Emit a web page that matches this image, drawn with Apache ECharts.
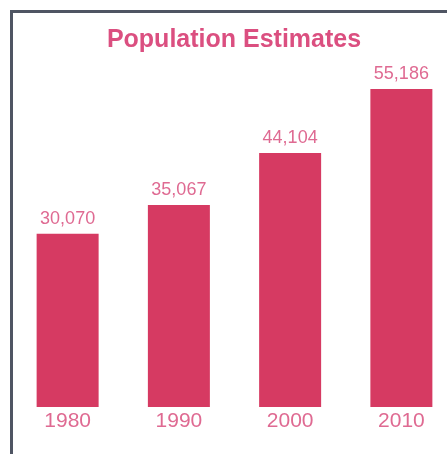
<!DOCTYPE html>
<html>
<head>
<meta charset="utf-8">
<script src="https://cdn.jsdelivr.net/npm/echarts@6/dist/echarts.min.js"></script>
<style>
html,body{margin:0;padding:0;background:#fff;}
#chart{width:447px;height:454px;}
</style>
</head>
<body>
<div id="chart"></div>
<script>
const titleText = "Population Estimates";
const categories = ["1980", "1990", "2000", "2010"];
const population = [30070, 35067, 44104, 55186];

const chart = echarts.init(document.getElementById('chart'));
chart.setOption({
  animation: false,
  backgroundColor: '#ffffff',
  title: {
    text: titleText,
    left: 229,
    textAlign: 'center',
    top: 23,
    textStyle: {
      fontFamily: 'Liberation Sans, Arial, sans-serif',
      fontWeight: 'bold',
      fontSize: 25,
      color: '#db4f80'
    }
  },
  grid: { left: 12, width: 445, top: 61.3, bottom: 47, outerBoundsMode: 'none', containLabel: false },
  xAxis: {
    type: 'category',
    data: categories,
    axisLine: { show: false },
    axisTick: { show: false },
    axisLabel: {
      margin: 4,
      fontFamily: 'Liberation Sans, Arial, sans-serif',
      fontSize: 21,
      color: '#df6a92'
    }
  },
  yAxis: {
    type: 'value',
    min: 0,
    max: 60000,
    show: false,
    splitLine: { show: false }
  },
  series: [{
    type: 'bar',
    data: population,
    barWidth: 62,
    itemStyle: { color: '#d63a62' },
    label: {
      show: true,
      position: 'top',
      distance: 6,
      fontFamily: 'Liberation Sans, Arial, sans-serif',
      fontSize: 18,
      color: '#df6a92',
      formatter: p => p.value.toLocaleString('en-US')
    }
  }],
  graphic: [
    { type: 'rect', shape: { x: 10, y: 10, width: 3, height: 444 }, style: { fill: '#4f5563' } },
    { type: 'rect', shape: { x: 10, y: 10, width: 437, height: 3 }, style: { fill: '#4f5563' } }
  ]
});
</script>
</body>
</html>
